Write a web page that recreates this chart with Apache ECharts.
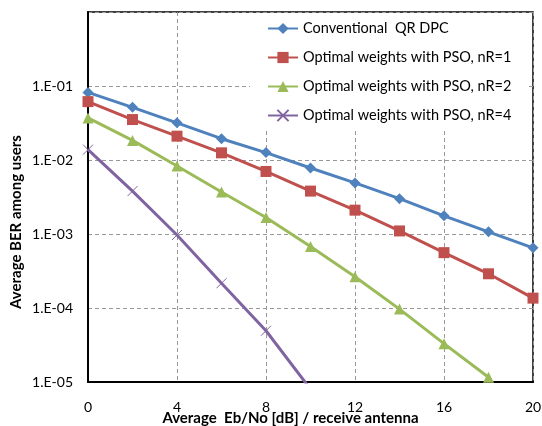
<!DOCTYPE html>
<html>
<head>
<meta charset="utf-8">
<script src="https://cdn.jsdelivr.net/npm/echarts@6/dist/echarts.min.js"></script>
<style>
  html, body { margin: 0; padding: 0; background: #fff; }
  #chart { width: 542px; height: 426px; }
</style>
</head>
<body>
<div id="chart"></div>
<script>
// Eb/No in dB, one point every 2 dB
const snr = [0, 2, 4, 6, 8, 10, 12, 14, 16, 18, 20];
const seriesNames = [
  'Conventional  QR DPC',
  'Optimal weights with PSO, nR=1',
  'Optimal weights with PSO, nR=2',
  'Optimal weights with PSO, nR=4'
];
// average BER
const berConventional = [0.082, 0.0515, 0.0318, 0.0194, 0.0126, 0.0078, 0.0049, 0.0030, 0.00176, 0.00107, 0.00065];
const berNr1 = [0.0615, 0.0352, 0.021, 0.0125, 0.0070, 0.0038, 0.0021, 0.0011, 0.00056, 0.00029, 0.000136];
const berNr2 = [0.037, 0.0184, 0.0083, 0.0037, 0.00167, 0.00068, 0.000265, 0.0000966, 0.000033, 0.0000116];
const berNr4 = [0.0138, 0.0038, 0.00097, 0.000216, 0.0000493, 0.000008];
const xTicks = [0, 4, 8, 12, 16, 20];

const colors = ['#4F81BD', '#C0504D', '#9BBB59', '#8064A2'];
const font = 'Lato, "Liberation Sans", sans-serif';

function pairs(ys) {
  return ys.map((y, i) => [snr[i], y]);
}

const chart = echarts.init(document.getElementById('chart'));

const crossPath = 'path://M0,0L10,10M10,0L0,10';

const option = {
  animation: false,
  color: colors,
  textStyle: { fontFamily: font },
  grid: {
    left: 88, right: 9, top: 12, bottom: 44,
    outerBoundsMode: 'none',
    containLabel: false,
    show: true, borderColor: '#000', borderWidth: 1.5
  },
  legend: {
    orient: 'vertical',
    left: 250,
    top: 13,
    padding: [8, 16, 8, 17],
    backgroundColor: '#fff',
    itemWidth: 30,
    itemHeight: 14,
    itemGap: 14,
    textStyle: { fontSize: 14.5, color: '#000', fontFamily: font },
    data: seriesNames
  },
  xAxis: {
    type: 'value',
    min: 0, max: 20, interval: 4,
    name: 'Average  Eb/No [dB] / receive antenna',
    nameLocation: 'middle',
    nameGap: 29,
    nameMoveOverlap: false,
    nameTextStyle: { fontSize: 15, fontWeight: 'bold', color: '#000', padding: [0, 40, 0, 0] },
    axisLine: { lineStyle: { color: '#000', width: 2 } },
    axisTick: { show: false },
    axisLabel: {
      fontSize: 14, color: '#000', margin: 18,
      formatter: v => (xTicks.includes(v) ? String(v) : '')
    },
    splitLine: { show: true, lineStyle: { color: '#999', type: [4, 3], width: 1 } }
  },
  yAxis: {
    type: 'log',
    logBase: 10,
    min: 0.00001, max: 1,
    name: 'Average BER among users',
    nameLocation: 'middle',
    nameGap: 64,
    nameMoveOverlap: false,
    nameTextStyle: { fontSize: 15, fontWeight: 'bold', color: '#000', padding: [0, 50, 0, 0] },
    axisLine: { show: true, lineStyle: { color: '#000', width: 2 } },
    axisTick: { show: false },
    axisLabel: {
      fontSize: 14, color: '#000', margin: 15,
      formatter: v => {
        if (v >= 1) return '';
        const e = Math.round(-Math.log10(v));
        return '1.E-' + (e < 10 ? '0' + e : e);
      }
    },
    splitLine: { show: true, lineStyle: { color: '#999', type: [4, 3], width: 1 } }
  },
  series: [
    {
      name: seriesNames[0], type: 'line', data: pairs(berConventional),
      symbol: 'diamond', symbolSize: 11,
      lineStyle: { width: 3 }
    },
    {
      name: seriesNames[1], type: 'line', data: pairs(berNr1),
      symbol: 'rect', symbolSize: 11,
      lineStyle: { width: 3 }
    },
    {
      name: seriesNames[2], type: 'line', data: pairs(berNr2),
      symbol: 'triangle', symbolSize: 11,
      lineStyle: { width: 3 }
    },
    {
      name: seriesNames[3], type: 'line', data: pairs(berNr4),
      symbol: crossPath, symbolSize: 10,
      itemStyle: { color: colors[3], borderColor: colors[3], borderWidth: 1 },
      lineStyle: { width: 3 }
    }
  ]
};

chart.setOption(option);
</script>
</body>
</html>
